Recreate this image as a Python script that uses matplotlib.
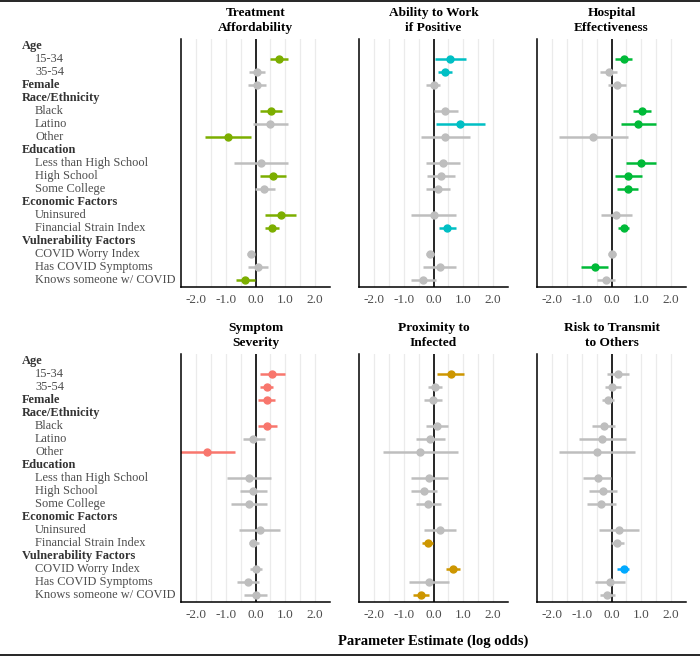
import matplotlib
matplotlib.use('Agg')
import matplotlib.pyplot as plt
from matplotlib.transforms import blended_transform_factory
from matplotlib.lines import Line2D

plt.rcParams['font.family'] = ['Liberation Serif', 'DejaVu Serif']

rows = ['Age', '15-34', '35-54', 'Female', 'Race/Ethnicity', 'Black', 'Latino', 'Other',
        'Education', 'Less than High School', 'High School', 'Some College',
        'Economic Factors', 'Uninsured', 'Financial Strain Index',
        'Vulnerability Factors', 'COVID Worry Index', 'Has COVID Symptoms',
        'Knows someone w/ COVID']
headers = ['Age', 'Female', 'Race/Ethnicity', 'Education', 'Economic Factors', 'Vulnerability Factors']
terms = ['15-34', '35-54', 'Female', 'Black', 'Latino', 'Other',
         'Less than High School', 'High School', 'Some College',
         'Uninsured', 'Financial Strain Index',
         'COVID Worry Index', 'Has COVID Symptoms', 'Knows someone w/ COVID']

titles = ['Treatment\nAffordability', 'Ability to Work\nif Positive', 'Hospital\nEffectiveness',
          'Symptom\nSeverity', 'Proximity to\nInfected', 'Risk to Transmit\nto Others']
colors = ['#7CAE00', '#00BFC4', '#00BA38', '#F8766D', '#CD9600', '#00A9FF']

# estimates, 95% intervals and significance flag, same order as terms
afford_est = [0.78, 0.06, 0.06, 0.51, 0.50, -0.91, 0.19, 0.58, 0.30, 0.84, 0.56, -0.16, 0.09, -0.36]
afford_lo = [0.48, -0.21, -0.24, 0.14, -0.08, -1.69, -0.71, 0.14, -0.02, 0.33, 0.31, -0.28, -0.24, -0.67]
afford_hi = [1.10, 0.31, 0.34, 0.90, 1.08, -0.16, 1.10, 1.01, 0.66, 1.37, 0.79, -0.04, 0.43, -0.02]
afford_sig = [1, 0, 0, 1, 0, 1, 0, 1, 0, 1, 1, 0, 0, 1]

work_est = [0.57, 0.38, 0.00, 0.40, 0.90, 0.40, 0.31, 0.25, 0.15, 0.00, 0.46, -0.12, 0.21, -0.34]
work_lo = [0.05, 0.15, -0.24, 0.02, 0.09, -0.43, -0.26, -0.21, -0.24, -0.77, 0.20, -0.25, -0.35, -0.76]
work_hi = [1.10, 0.63, 0.23, 0.82, 1.73, 1.21, 0.88, 0.71, 0.55, 0.75, 0.75, 0.03, 0.77, 0.09]
work_sig = [1, 1, 0, 0, 1, 0, 0, 0, 0, 0, 1, 0, 0, 0]

hosp_est = [0.41, -0.10, 0.19, 1.01, 0.89, -0.62, 0.99, 0.56, 0.54, 0.16, 0.41, 0.01, -0.57, -0.19]
hosp_lo = [0.12, -0.38, -0.12, 0.71, 0.31, -1.76, 0.47, 0.12, 0.19, -0.36, 0.21, -0.12, -1.02, -0.49]
hosp_hi = [0.69, 0.20, 0.49, 1.31, 1.48, 0.54, 1.51, 1.01, 0.89, 0.69, 0.58, 0.15, -0.13, 0.12]
hosp_sig = [1, 0, 0, 1, 1, 0, 1, 1, 1, 0, 1, 0, 1, 0]

sympt_est = [0.56, 0.37, 0.37, 0.40, -0.07, -1.63, -0.22, -0.10, -0.21, 0.14, -0.07, 0.01, -0.24, 0.00]
sympt_lo = [0.14, 0.16, 0.08, 0.09, -0.43, -2.60, -0.94, -0.52, -0.81, -0.54, -0.23, -0.19, -0.61, -0.39]
sympt_hi = [0.98, 0.59, 0.67, 0.71, 0.31, -0.69, 0.53, 0.37, 0.40, 0.83, 0.12, 0.23, 0.12, 0.39]
sympt_sig = [1, 1, 1, 1, 0, 1, 0, 0, 0, 0, 0, 0, 0, 0]

prox_est = [0.58, 0.05, -0.01, 0.11, -0.12, -0.45, -0.14, -0.33, -0.18, 0.23, -0.20, 0.64, -0.15, -0.42]
prox_lo = [0.13, -0.20, -0.31, -0.24, -0.59, -1.70, -0.77, -0.75, -0.59, -0.31, -0.38, 0.41, -0.82, -0.68]
prox_hi = [1.03, 0.30, 0.30, 0.48, 0.37, 0.82, 0.48, 0.11, 0.25, 0.77, -0.01, 0.88, 0.51, -0.14]
prox_sig = [1, 0, 0, 0, 0, 0, 0, 0, 0, 0, 1, 1, 0, 1]

risk_est = [0.22, 0.03, -0.12, -0.26, -0.32, -0.48, -0.46, -0.30, -0.34, 0.25, 0.20, 0.41, -0.04, -0.14]
risk_lo = [-0.14, -0.23, -0.32, -0.65, -1.08, -1.76, -0.95, -0.75, -0.81, -0.43, -0.01, 0.20, -0.55, -0.40]
risk_hi = [0.58, 0.31, 0.09, 0.13, 0.48, 0.78, -0.01, 0.19, 0.16, 0.93, 0.42, 0.59, 0.46, 0.12]
risk_sig = [0, 0, 0, 0, 0, 0, 0, 0, 0, 0, 0, 1, 0, 0]

panels = [(afford_est, afford_lo, afford_hi, afford_sig),
          (work_est, work_lo, work_hi, work_sig),
          (hosp_est, hosp_lo, hosp_hi, hosp_sig),
          (sympt_est, sympt_lo, sympt_hi, sympt_sig),
          (prox_est, prox_lo, prox_hi, prox_sig),
          (risk_est, risk_lo, risk_hi, risk_sig)]

ypos = {r: len(rows) - 1 - i for i, r in enumerate(rows)}

fig = plt.figure(figsize=(7.0, 6.57), dpi=100)
lefts = [181 / 700, 359 / 700, 537 / 700]
bottoms = [1 - 287 / 657, 1 - 602 / 657]
w, h = 149 / 700, 248 / 657

for k, (est, lo, hi, sig) in enumerate(panels):
    r, c = divmod(k, 3)
    ax = fig.add_axes([lefts[c], bottoms[r], w, h])
    ax.set_xlim(-2.5, 2.5)
    ax.set_ylim(-0.55, len(rows) - 0.45)
    for gx in [-2, -1.5, -1, -0.5, 0.5, 1, 1.5, 2]:
        ax.axvline(gx, color='#EBEBEB', lw=0.9, zorder=0)
    ax.axvline(0, color='black', lw=1.2, zorder=1)
    for t, e, l, u, s in zip(terms, est, lo, hi, sig):
        col = colors[k] if s else '#BEBEBE'
        y = ypos[t]
        ax.plot([l, u], [y, y], color=col, lw=1.8, solid_capstyle='butt', zorder=2)
        ax.plot(e, y, 'o', color=col, ms=5, zorder=3)
    for s in ['top', 'right']:
        ax.spines[s].set_visible(False)
    ax.spines['left'].set_linewidth(1.1)
    ax.spines['bottom'].set_linewidth(1.1)
    ax.set_xticks([-2, -1, 0, 1, 2])
    ax.set_xticklabels(['-2.0', '-1.0', '0.0', '1.0', '2.0'], fontsize=9.5, color='#4D4D4D')
    ax.tick_params(axis='x', length=0, pad=5)
    ax.set_yticks([])
    ax.set_title(titles[k], fontsize=9.6, fontweight='bold', pad=6, linespacing=1.25)
    if c == 0:
        tr = blended_transform_factory(fig.transFigure, ax.transData)
        for name in rows:
            if name in headers:
                ax.text(22 / 700, ypos[name], name, transform=tr, fontsize=8.9,
                        fontweight='bold', ha='left', va='center', color='#333333')
            else:
                ax.text(35 / 700, ypos[name], name, transform=tr, fontsize=8.9,
                        ha='left', va='center', color='#4D4D4D')

fig.text(433 / 700, 1 - 641 / 657, 'Parameter Estimate (log odds)', fontsize=10.5,
         fontweight='bold', ha='center', va='center')
fig.add_artist(Line2D([0, 1], [1 - 655 / 657] * 2, color='black', lw=1.2, transform=fig.transFigure))
fig.add_artist(Line2D([0, 1], [0.999] * 2, color='black', lw=1.2, transform=fig.transFigure))

fig.savefig('out.png', dpi=100)
